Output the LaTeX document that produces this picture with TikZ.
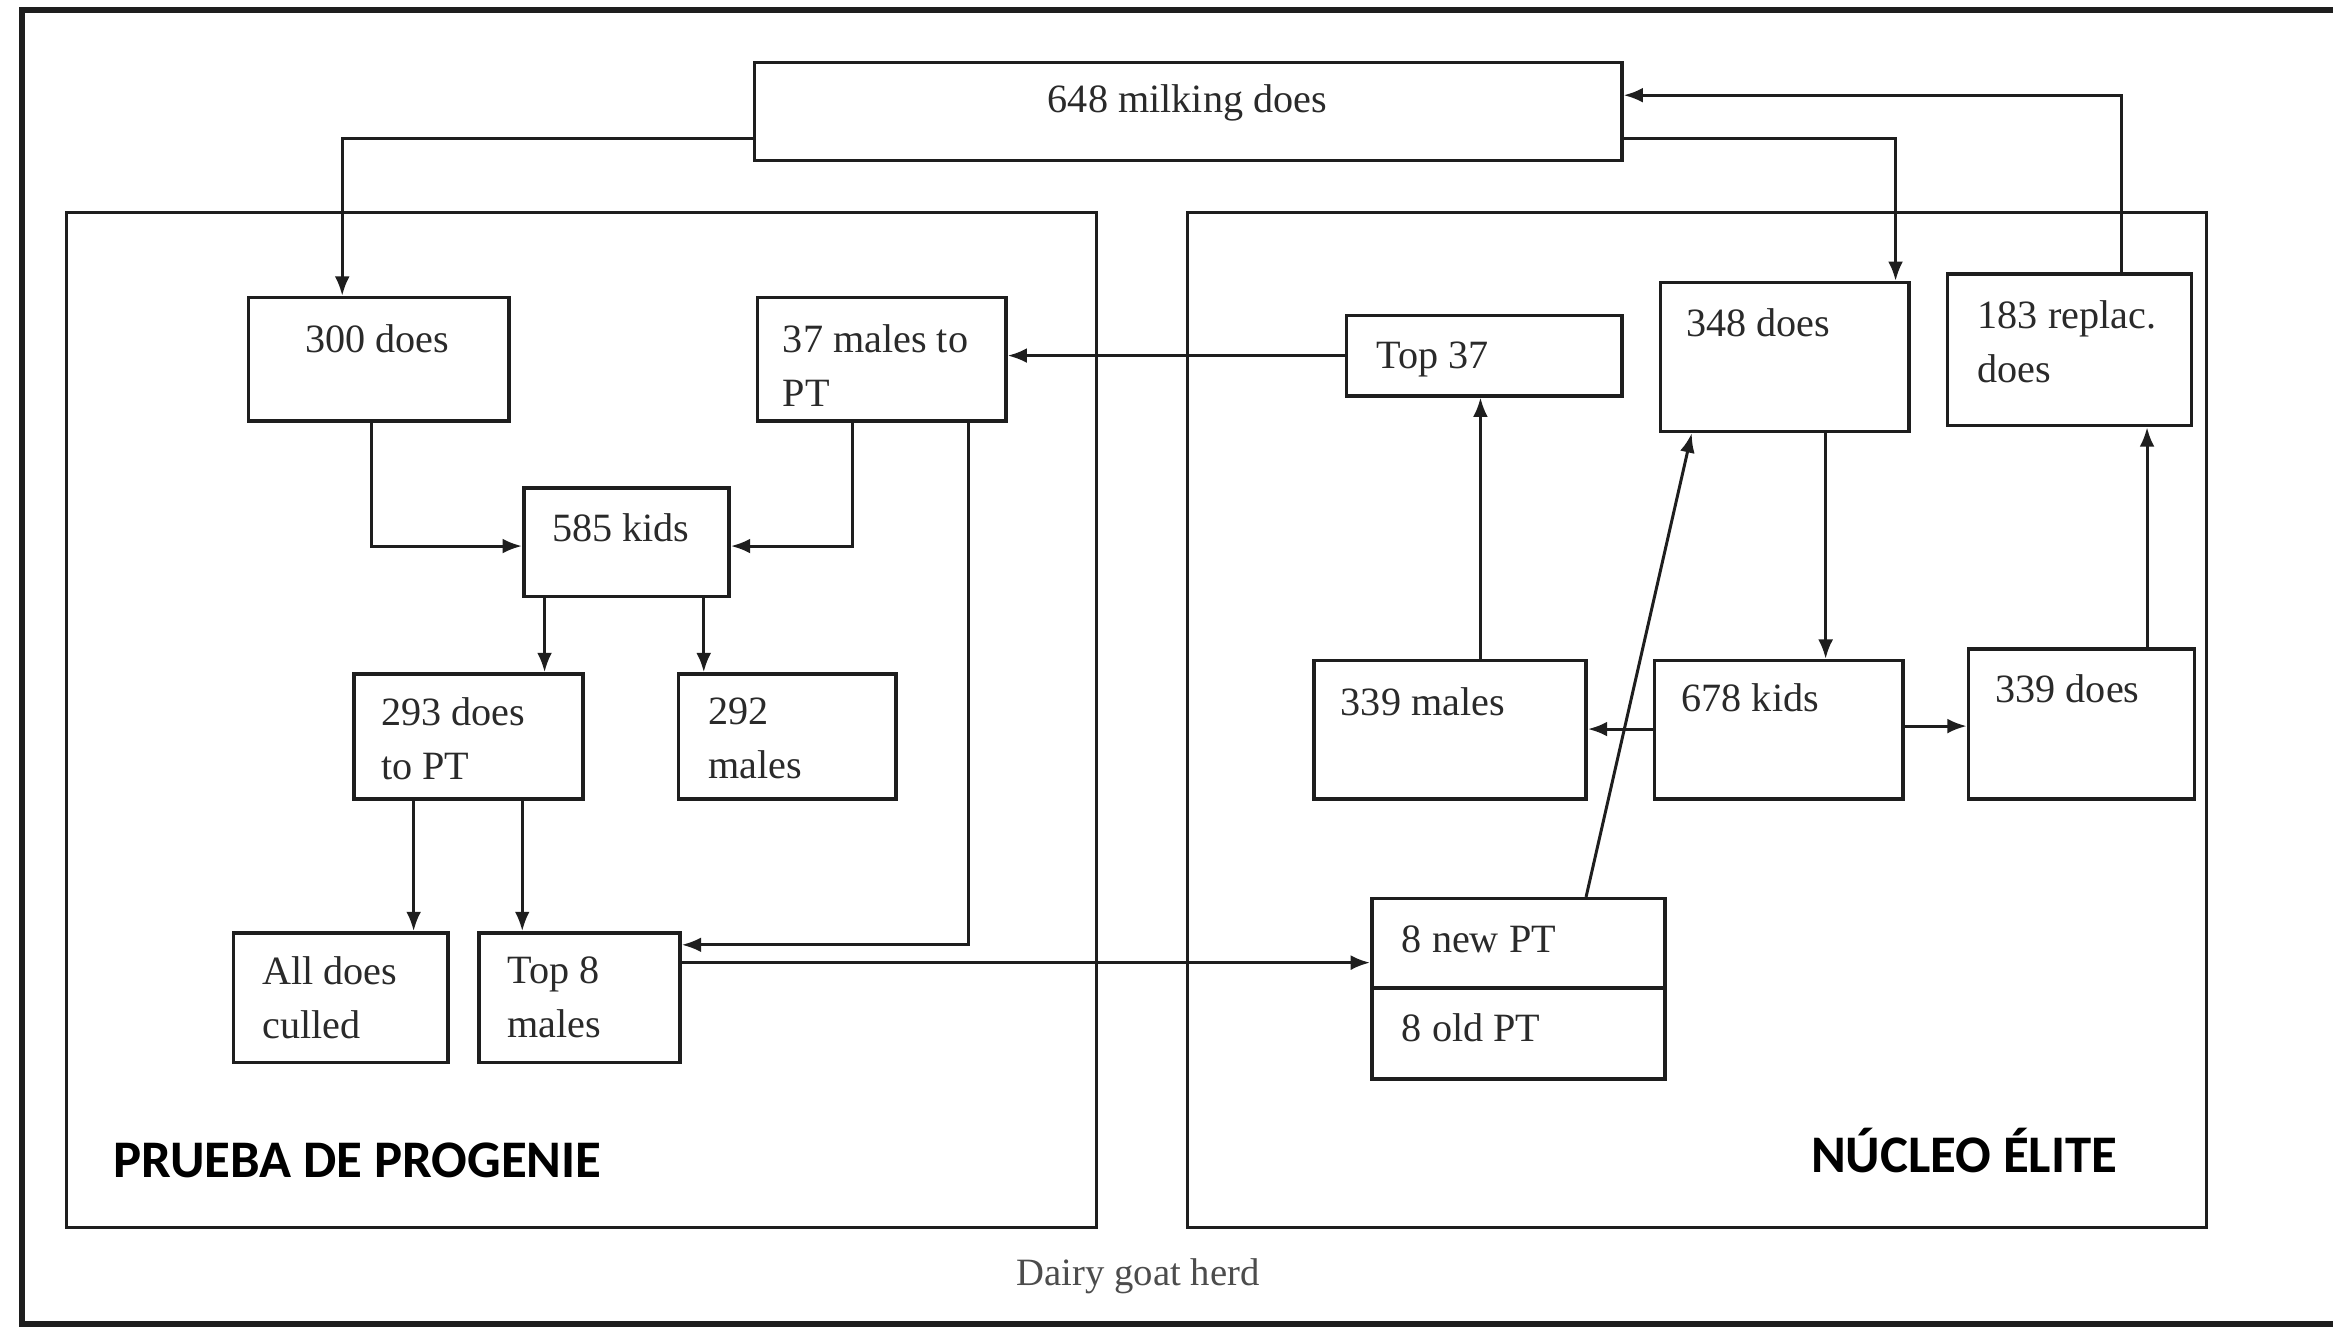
\documentclass[tikz,border=0pt]{standalone}
\usepackage{fontspec}
\setmainfont{Liberation Serif}
\newfontfamily\headfont{Carlito}
\usetikzlibrary{arrows.meta,fit}

\definecolor{ink}{HTML}{1E1E1E}
\definecolor{txt}{HTML}{2A2A2A}

\tikzset{
  box/.style={draw=ink, line width=2.4pt, inner sep=0pt, fill=white},
  region/.style={draw=ink, line width=2pt},
  arr/.style={draw=ink, line width=2pt, -{Latex[length=13pt,width=10pt]}},
  lbl/.style={inner sep=0pt, text=txt, font=\fontsize{27}{36}\selectfont},
  lbltop/.style={lbl, anchor=north west, align=left},
  lblbase/.style={lbl, anchor=base west},
  head/.style={inner sep=0pt, font=\headfont\bfseries\fontsize{35.5}{42}\selectfont, text=black},
}

\begin{document}
\begin{tikzpicture}[x=1pt,y=-1pt]
\useasboundingbox[fill=white] (0,0) rectangle (1568,893);

% outer herd frame (right side runs off the page)
\draw[ink, line width=4pt] (1572,7) -- (15,7) -- (15,890) -- (1572,890);

% the two sub-populations
\node[region, fit={(45,143) (737,825)}, inner sep=0pt] (pt) {};
\node[region, fit={(798,143) (1483,825)}, inner sep=0pt] (elite) {};

% boxes
\node[box, fit={(507,42) (1090,108)}]   (m648) {};
\node[box, fit={(167,200) (342,283)}]   (d300) {};
\node[box, fit={(509,200) (676,283)}]   (m37) {};
\node[box, fit={(352,328) (490,401)}]   (k585) {};
\node[box, fit={(238,453) (392,537)}]   (d293) {};
\node[box, fit={(456,453) (602,537)}]   (m292) {};
\node[box, fit={(157,627) (301,714)}]   (culled) {};
\node[box, fit={(322,627) (457,714)}]   (top8) {};
\node[box, fit={(905,212) (1090,266)}]  (top37) {};
\node[box, fit={(1116,190) (1283,290)}] (d348) {};
\node[box, fit={(1309,184) (1473,286)}] (d183) {};
\node[box, fit={(883,444) (1066,537)}]  (m339) {};
\node[box, fit={(1112,444) (1279,537)}] (k678) {};
\node[box, fit={(1323,436) (1475,537)}] (d339) {};
\node[box, fit={(922,604) (1119,664)}]  (newpt) {};
\node[box, fit={(922,664) (1119,725)}]  (oldpt) {};

% box texts
\node[lbl] (t648) at (798,69) {648 milking does};
\node[lblbase] (t300) at (205,237) {300 does};
\node[lbltop]  (t37)  at (526,218) {37 males to\\PT};
\node[lblbase] (t585) at (371,364) {585 kids};
\node[lbltop]  (t293) at (256,469) {293 does\\to PT};
\node[lbltop]  (t292) at (476,469) {292\\males};
\node[lbltop]  (tcul) at (176,643) {All does\\culled};
\node[lbltop]  (tt8)  at (341,643) {Top 8\\males};
\node[lblbase] (tt37) at (925,248) {Top 37};
\node[lblbase] (t348) at (1133,226) {348 does};
\node[lbltop]  (t183) at (1329,202) {183 replac.\\does};
\node[lblbase] (tm339) at (901,481) {339 males};
\node[lblbase] (t678) at (1130,478) {678 kids};
\node[lblbase] (td339) at (1341,472) {339 does};
\node[lblbase] (tnew) at (942,640) {8 new PT};
\node[lblbase] (told) at (942,700) {8 old PT};

% region titles and herd caption
\node[head, anchor=west] (hpt) at (76,780) {PRUEBA DE PROGENIE};
\node[head, anchor=west] (hel) at (1217,773) {NÚCLEO ÉLITE};
\node[lbl, text=black!70, font=\fontsize{26}{30}\selectfont] (herd) at (765,858) {Dairy goat herd};

% flows
\draw[arr] (m648.west |- 0,93) -| (d300.north -| 230,0);
\draw[arr] (m648.east |- 0,93) -| (d348.north -| 1274,0);
\draw[arr] (d183.north -| 1426,0) |- (m648.east |- 0,64);
\draw[arr] (top37.west) -- (m37.east |- top37.west);
\draw[arr] (d300.south -| 250,0) |- (k585.west |- 0,367);
\draw[arr] (m37.south -| 573,0) |- (k585.east |- 0,367);
\draw[arr] (k585.south -| 366,0) -- (d293.north -| 366,0);
\draw[arr] (k585.south -| 473,0) -- (m292.north -| 473,0);
\draw[arr] (d293.south -| 278,0) -- (culled.north -| 278,0);
\draw[arr] (d293.south -| 351,0) -- (top8.north -| 351,0);
\draw[arr] (m37.south -| 651,0) |- (top8.east |- 0,635);
\draw[arr] (top8.east |- 0,647) -- (newpt.west |- 0,647);
\draw[arr] (d348.south -| 1227,0) -- (k678.north -| 1227,0);
\draw[arr] (k678.west |- 0,490) -- (m339.east |- 0,490);
\draw[arr] (k678.east |- 0,488) -- (d339.west |- 0,488);
\draw[arr] (d339.north -| 1443,0) -- (d183.south -| 1443,0);
\draw[arr] (m339.north -| 995,0) -- (top37.south -| 995,0);
\draw[arr] (newpt.north -| 1066,0) -- (d348.south -| 1137,0);
\end{tikzpicture}
\end{document}
